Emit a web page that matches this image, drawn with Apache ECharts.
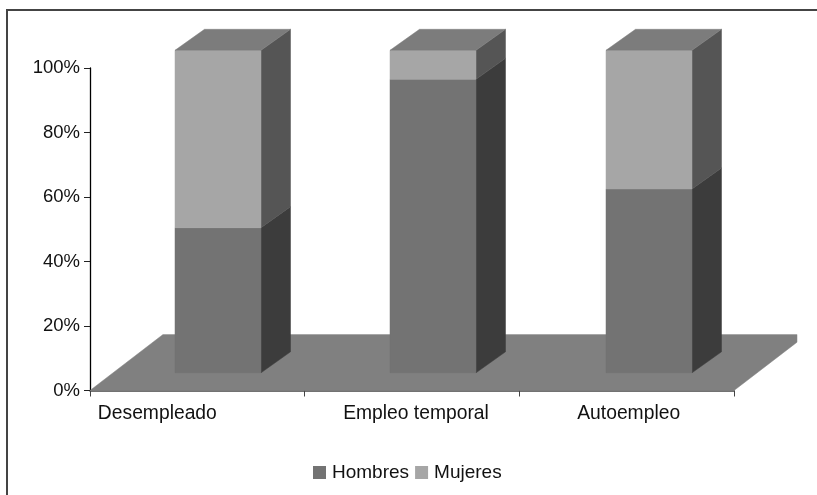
<!DOCTYPE html>
<html><head><meta charset="utf-8">
<style>html,body{margin:0;padding:0;background:#fff;overflow:hidden}#c{width:817px;height:495px}</style>
<script src="https://cdn.jsdelivr.net/npm/echarts@6/dist/echarts.min.js"></script>
</head><body><div id="c"></div>
<script>
const categories = ['Desempleado', 'Empleo temporal', 'Autoempleo'];
const hombres = [45, 91, 57];
const mujeres = [55, 9, 43];
const yTicks = { min: 0, max: 100, interval: 20 };

const FONT = '"Liberation Sans", Arial, sans-serif';
const barWidth = 86, depthX = 29.5, depthY = 21;
const barNudge = [20.7, 21, 22.3], baseLift = 17.7;
const poly = (points, fill) => ({ type: 'polygon', shape: { points }, style: { fill, stroke: fill, lineWidth: 0.5 } });

function boxRenderer(frontColor, sideColor, withTop) {
  return function (params, api) {
    const i = api.value(0);
    const c0 = api.coord([i, api.value(1)]);
    const c1 = api.coord([i, api.value(2)]);
    const l = Math.round(c0[0] + barNudge[i] - barWidth / 2), r = l + barWidth;
    const b = c0[1] - baseLift, t = c1[1] - baseLift;
    const children = [
      poly([[r, b], [r + depthX, b - depthY], [r + depthX, t - depthY], [r, t]], sideColor),
      poly([[l, b], [r, b], [r, t], [l, t]], frontColor)
    ];
    if (withTop) children.push(poly([[l, t], [r, t], [r + depthX, t - depthY], [l + depthX, t - depthY]], '#7c7c7c'));
    return { type: 'group', children };
  };
}
function floorRenderer(params) {
  const g = params.coordSys;
  const x0 = g.x, x1 = g.x + g.width, y0 = g.y + g.height, yb = y0 - 56;
  return {
    type: 'group', children: [
      poly([[x0, y0], [x1, y0], [797, y0 - 48.3], [797, yb], [x0 + 73, yb]], '#808080'),
      { type: 'line', shape: { x1: x0 + 73, y1: yb, x2: 797, y2: yb }, style: { stroke: '#a8a8a8', lineWidth: 1 } }
    ]
  };
}

const labelStyles = ['d', 'e', 'a'];
const labelPad = [[0, 80, 0, 0], [0, 0, 0, 8], [0, 0, 0, 4]];
const rich = {};
labelStyles.forEach((k, i) => { rich[k] = { padding: labelPad[i], fontSize: 19.3, fontFamily: FONT, color: '#111' }; });

const chart = echarts.init(document.getElementById('c'), null, { renderer: 'canvas' });
chart.setOption({
  animation: false,
  backgroundColor: '#fff',
  graphic: [{ type: 'polyline', silent: true, shape: { points: [[7, 495], [7, 10], [817, 10]] }, style: { fill: 'none', stroke: '#444', lineWidth: 2 } }],
  legend: {
    left: 308, top: 458, itemWidth: 13, itemHeight: 13, itemGap: 6, icon: 'rect',
    data: ['Hombres', 'Mujeres'],
    textStyle: { fontSize: 19, fontFamily: FONT, color: '#111', padding: [0, 0, 0, 1] }
  },
  grid: { left: 90, right: 83, top: 68, bottom: 104.5, containLabel: false },
  xAxis: {
    type: 'category', data: categories, boundaryGap: true,
    axisLine: { lineStyle: { color: '#444', width: 1.5 } },
    axisTick: { show: true, length: 6, lineStyle: { color: '#444', width: 1 }, alignWithLabel: false },
    axisLabel: {
      interval: 0, margin: 14, rich,
      formatter: (v, i) => `{${labelStyles[i]}|${v}}`
    },
    splitLine: { show: false }
  },
  yAxis: {
    type: 'value', min: yTicks.min, max: yTicks.max, interval: yTicks.interval,
    axisLine: { show: true, lineStyle: { color: '#000', width: 1.3 } },
    axisTick: { show: true, length: 6, lineStyle: { color: '#222', width: 1 } },
    axisLabel: { formatter: '{value}%', margin: 10, fontSize: 18.5, fontFamily: FONT, color: '#111' },
    splitLine: { show: false }
  },
  series: [
    { name: 'Suelo', type: 'custom', silent: true, clip: false, z: 1, renderItem: floorRenderer, data: [[0, 0, 0]], encode: { x: 0, y: 1 } },
    {
      name: 'Hombres', type: 'custom', clip: false, z: 2, itemStyle: { color: '#737373' },
      renderItem: boxRenderer('#737373', '#3c3c3c', false),
      data: categories.map((c, i) => [i, 0, hombres[i]]), encode: { x: 0, y: [1, 2] }
    },
    {
      name: 'Mujeres', type: 'custom', clip: false, z: 3, itemStyle: { color: '#a6a6a6' },
      renderItem: boxRenderer('#a6a6a6', '#555555', true),
      data: categories.map((c, i) => [i, hombres[i], hombres[i] + mujeres[i]]), encode: { x: 0, y: [1, 2] }
    }
  ]
});
</script></body></html>
